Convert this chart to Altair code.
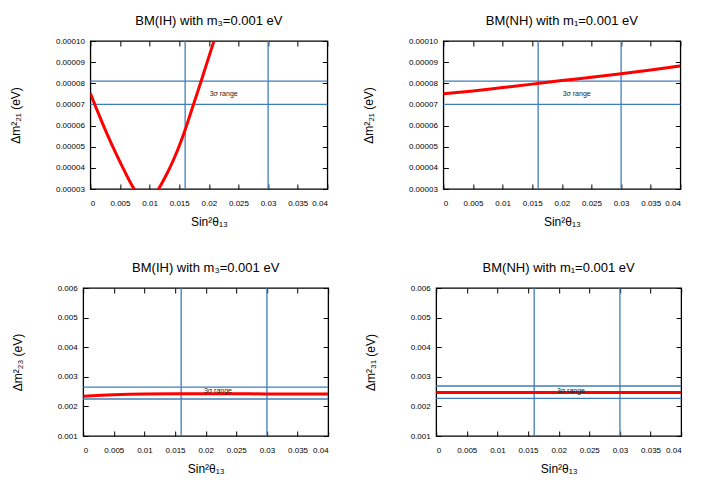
import altair as alt
import pandas as pd

# ---------------- data ----------------
x_ticks = [0, 0.005, 0.01, 0.015, 0.02, 0.025, 0.03, 0.035, 0.04]
y21_ticks = [0.00003, 0.00004, 0.00005, 0.00006, 0.00007, 0.00008, 0.00009, 0.00010]
y3x_ticks = [0.001, 0.002, 0.003, 0.004, 0.005, 0.006]

# BM(IH), m3 = 0.001 eV : delta m^2_21 vs sin^2 theta_13
ih21_x = [0.000, 0.001, 0.002, 0.003, 0.004, 0.005, 0.006, 0.007, 0.008, 0.009, 0.010,
          0.011, 0.0115, 0.012, 0.013, 0.014, 0.015, 0.016, 0.017, 0.018, 0.019, 0.020,
          0.021, 0.022]
ih21_y = [7.53e-5, 6.82e-5, 6.14e-5, 5.49e-5, 4.87e-5, 4.28e-5, 3.72e-5, 3.18e-5, 2.80e-5,
          2.62e-5, 2.60e-5, 2.77e-5, 3.00e-5, 3.24e-5, 3.77e-5, 4.36e-5, 5.03e-5, 5.80e-5,
          6.65e-5, 7.50e-5, 8.37e-5, 9.25e-5, 10.12e-5, 11.00e-5]

# BM(NH), m1 = 0.001 eV : delta m^2_21
nh21_x = [0.000, 0.005, 0.010, 0.015, 0.020, 0.025, 0.030, 0.035, 0.040]
nh21_y = [7.50e-5, 7.64e-5, 7.80e-5, 7.96e-5, 8.13e-5, 8.28e-5, 8.45e-5, 8.63e-5, 8.82e-5]

# BM(IH), m3 = 0.001 eV : delta m^2_23
ih23_x = [0.000, 0.005, 0.010, 0.015, 0.020, 0.025, 0.030, 0.035, 0.040]
ih23_y = [0.00234, 0.00239, 0.00242, 0.00243, 0.00243, 0.00243, 0.00242, 0.00242, 0.00242]

# BM(NH), m1 = 0.001 eV : delta m^2_31
nh31_x = [0.000, 0.005, 0.010, 0.015, 0.020, 0.025, 0.030, 0.035, 0.040]
nh31_y = [0.00247, 0.00247, 0.00247, 0.00247, 0.00247, 0.00247, 0.00247, 0.00247, 0.00247]

# 3 sigma ranges
s13_range = [0.016, 0.030]
dm21_range = [0.000070, 0.000081]
dm23_range = [0.00225, 0.00265]
dm31_range = [0.00227, 0.00269]

label_text = "3σ range"

BLUE = "#3f7ebd"
RED = "#ff0000"
FONT = "Liberation Sans"


def panel(title, xs, ys, band, ytitle, ydom, yticks, yfmt, lab_x, lab_y, width, ytpad,
          right_extent=0):
    xsc = alt.Scale(domain=[0, 0.04], nice=False, zero=False)
    ysc = alt.Scale(domain=ydom, nice=False, zero=False)
    ax_b = alt.Axis(orient="bottom", values=x_ticks, format=".3~f", offset=-5, tickSize=5,
                    domain=False, grid=False, labelPadding=10, title="Sin²θ₁₃", titlePadding=9)
    ax_t = alt.Axis(orient="top", values=x_ticks, offset=-5, tickSize=5, domain=False,
                    grid=False, labels=False, title=None)
    ay_l = alt.Axis(orient="left", values=yticks, format=yfmt, offset=-5, tickSize=5,
                    domain=False, grid=False, labelPadding=6, title=ytitle, titlePadding=ytpad)
    rkw = dict(orient="right", values=yticks, offset=-5, tickSize=5, domain=False,
               grid=False, labels=False, title=None)
    if right_extent:
        rkw["minExtent"] = right_extent
    ay_r = alt.Axis(**rkw)

    vr = alt.Chart(pd.DataFrame({"v": s13_range})).mark_rule(
        color=BLUE, strokeWidth=1.3).encode(x=alt.X("v:Q", scale=xsc, axis=ax_b))
    hr = alt.Chart(pd.DataFrame({"h": band})).mark_rule(
        color=BLUE, strokeWidth=1.3).encode(y=alt.Y("h:Q", scale=ysc, axis=ay_l))
    ln = alt.Chart(pd.DataFrame({"x": xs, "y": ys})).mark_line(
        color=RED, strokeWidth=3, clip=True, interpolate="monotone").encode(
        x=alt.X("x:Q", scale=xsc, axis=ax_t),
        y=alt.Y("y:Q", scale=ysc, axis=ay_r))
    tx = alt.Chart(pd.DataFrame({"x": [lab_x], "y": [lab_y], "t": [label_text]})).mark_text(
        fontSize=7, font=FONT, color="#222222").encode(
        x=alt.X("x:Q", scale=xsc, axis=None),
        y=alt.Y("y:Q", scale=ysc, axis=None),
        text="t:N")
    return alt.layer(vr, hr, ln, tx).resolve_axis(x="independent", y="independent").properties(
        width=width, height=148,
        title=alt.TitleParams(title, frame="group", anchor="middle", offset=9))


p1 = panel("BM(IH) with m₃=0.001 eV", ih21_x, ih21_y, dm21_range, "Δm²₂₁ (eV)",
           [0.00003, 0.00010], y21_ticks, ".5f", 0.0225, 0.0000747, 237, 33)
p2 = panel("BM(NH) with m₁=0.001 eV", nh21_x, nh21_y, dm21_range, "Δm²₂₁ (eV)",
           [0.00003, 0.00010], y21_ticks, ".5f", 0.0225, 0.0000747, 237, 33)
p3 = panel("BM(IH) with m₃=0.001 eV", ih23_x, ih23_y, dm23_range, "Δm²₂₃ (eV)",
           [0.001, 0.006], y3x_ticks, ".3f", 0.022, 0.00252, 245, 33, right_extent=12)
p4 = panel("BM(NH) with m₁=0.001 eV", nh31_x, nh31_y, dm31_range, "Δm²₃₁ (eV)",
           [0.001, 0.006], y3x_ticks, ".3f", 0.022, 0.00252, 245, 33, right_extent=12)

col1 = alt.vconcat(p1, p3, spacing=33, center=True)
col2 = alt.vconcat(p2, p4, spacing=33, center=True)

chart = alt.hconcat(col1, col2, spacing=25).properties(
    padding={"left": 0, "top": 6, "right": 2, "bottom": 5}
).configure_view(
    stroke="#000000", strokeWidth=1.3
).configure_axis(
    labelFont=FONT, labelFontSize=8, labelColor="#000000",
    titleFont=FONT, titleFontSize=12, titleFontWeight="normal", titleColor="#000000",
    tickColor="#000000", tickWidth=1
).configure_title(
    font=FONT, fontSize=13, fontWeight="normal", color="#000000"
)

chart.save("out.html", embed_options={"renderer": "svg", "actions": False})
